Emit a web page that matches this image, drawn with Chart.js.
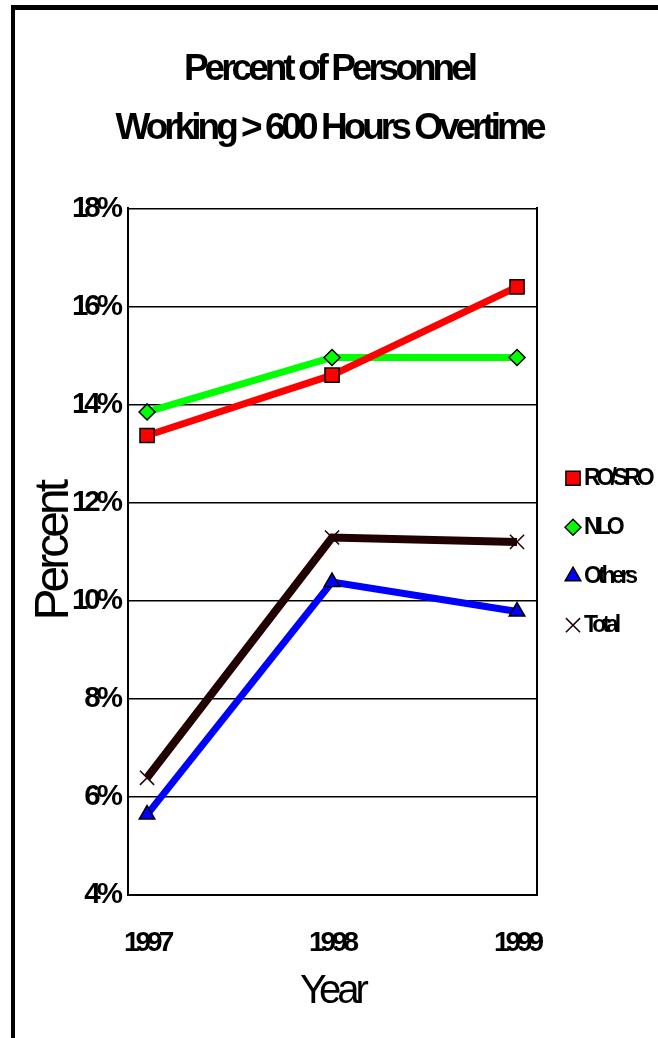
<!DOCTYPE html>
<html>
<head>
<meta charset="utf-8">
<title>Percent of Personnel Working &gt; 600 Hours Overtime</title>
<script src="https://cdn.jsdelivr.net/npm/chart.js@4.4.1/dist/chart.umd.min.js"></script>
<style>
  html, body { margin: 0; padding: 0; overflow: hidden; background: #fff; }
  #frame {
    position: absolute; left: 11px; top: 5px;
    width: 660px; height: 1040px;
    border-top: 5px solid #000; border-left: 4px solid #000;
  }
  #chart { position: absolute; left: 0; top: 0; }
</style>
</head>
<body>
<div id="frame"></div>
<canvas id="chart" width="658" height="1038"></canvas>
<script>
// values (percent)
const years = [1997, 1998, 1999];
const roSro = [13.37, 14.6, 16.4];
const nlo = [13.85, 14.96, 14.96];
const others = [5.64, 10.38, 9.78];
const total = [6.39, 11.29, 11.2];

const seriesNames = ['RO/SRO', 'NLO', 'Others', 'Total'];
const yTicks = [4, 6, 8, 10, 12, 14, 16, 18];
const titleLines = ['Percent of Personnel', 'Working > 600 Hours Overtime'];

const FONT = "'Liberation Sans', Arial, sans-serif";
const SPACING = '-4px'; // the original text is set very tight

Chart.defaults.font.family = FONT;
Chart.defaults.color = '#000';

function toPoints(values) {
    return values.map((v, i) => ({ x: years[i], y: v }));
}

// canvas letterSpacing gets reset whenever the canvas is resized, so set it often
const tightText = {
    id: 'tightText',
    beforeUpdate(chart) { chart.ctx.letterSpacing = SPACING; },
    beforeLayout(chart) { chart.ctx.letterSpacing = SPACING; },
    beforeDraw(chart) { chart.ctx.letterSpacing = SPACING; }
};

// legend on the right, one entry under the other
const sideLegend = {
    id: 'sideLegend',
    afterDraw(chart) {
        const ctx = chart.ctx;
        const area = chart.chartArea;
        const mid = (area.top + area.bottom) / 2;
        ctx.save();
        ctx.letterSpacing = SPACING;
        ctx.font = 'bold 23px ' + FONT;
        ctx.textBaseline = 'middle';
        ctx.textAlign = 'left';
        chart.data.datasets.forEach((ds, i) => {
            const y = mid + (i - 1.5) * 49;
            const x = area.right + 36;
            ctx.fillStyle = ds.pointBackgroundColor;
            ctx.strokeStyle = ds.pointBorderColor;
            ctx.lineWidth = ds.pointBorderWidth;
            Chart.helpers.drawPoint(ctx, {
                pointStyle: ds.pointStyle,
                radius: ds.pointRadius,
                borderWidth: ds.pointBorderWidth,
                rotation: 0
            }, x, y);
            ctx.fillStyle = '#000';
            ctx.fillText(ds.label, x + 11, y);
        });
        ctx.restore();
    }
};

const ctx = document.getElementById('chart').getContext('2d');

new Chart(ctx, {
    type: 'line',
    data: {
        datasets: [
            {
                label: seriesNames[0],
                data: toPoints(roSro),
                borderColor: '#ff0000',
                borderWidth: 7,
                pointStyle: 'rect',
                pointRadius: 10,
                pointBackgroundColor: '#ff0000',
                pointBorderColor: '#000',
                pointBorderWidth: 1.5
            },
            {
                label: seriesNames[1],
                data: toPoints(nlo),
                borderColor: '#00ff00',
                borderWidth: 7,
                pointStyle: 'rectRot',
                pointRadius: 8,
                pointBackgroundColor: '#00ff00',
                pointBorderColor: '#000',
                pointBorderWidth: 1.5
            },
            {
                label: seriesNames[2],
                data: toPoints(others),
                borderColor: '#0000ff',
                borderWidth: 7,
                pointStyle: 'triangle',
                pointRadius: 9,
                pointBackgroundColor: '#0000ff',
                pointBorderColor: '#000',
                pointBorderWidth: 1.5
            },
            {
                label: seriesNames[3],
                data: toPoints(total),
                borderColor: '#200000',
                borderWidth: 8,
                pointStyle: 'crossRot',
                pointRadius: 10,
                pointBackgroundColor: '#200000',
                pointBorderColor: '#200000',
                pointBorderWidth: 1.5
            }
        ]
    },
    options: {
        responsive: false,
        animation: false,
        layout: { padding: 0 },
        elements: { line: { tension: 0, fill: false } },
        plugins: {
            legend: { display: false },
            tooltip: { enabled: false },
            title: {
                display: true,
                text: titleLines,
                color: '#000',
                font: { size: 37, weight: 'bold', lineHeight: 1.6 },
                padding: { top: 40, bottom: 50 }
            }
        },
        scales: {
            x: {
                type: 'linear',
                min: 1996.897,
                max: 1999.108,
                afterBuildTicks: (scale) => { scale.ticks = years.map(v => ({ value: v })); },
                afterFit: (scale) => { scale.height = 143; },
                grid: { display: false },
                border: { display: true, color: '#000', width: 2 },
                ticks: {
                    padding: 23,
                    color: '#000',
                    maxRotation: 0,
                    autoSkip: false,
                    font: { size: 28, weight: 'bold' },
                    callback: (v) => String(v)
                },
                title: {
                    display: true,
                    text: 'Year',
                    color: '#000',
                    font: { size: 40 },
                    padding: { top: 0, bottom: 22 }
                }
            },
            y: {
                min: 4,
                max: 18,
                afterBuildTicks: (scale) => { scale.ticks = yTicks.map(v => ({ value: v })); },
                afterFit: (scale) => { scale.width = 128; },
                grid: { color: '#000', lineWidth: 1.5, drawTicks: false },
                border: { color: '#000', width: 2 },
                ticks: {
                    padding: 9,
                    color: '#000',
                    font: { size: 29.5, weight: 'bold' },
                    callback: (v) => v + '%'
                },
                title: {
                    display: true,
                    text: 'Percent',
                    color: '#000',
                    font: { size: 48 },
                    padding: { top: 26, bottom: 0 }
                }
            },
            // closes the plot box on the right and keeps room for the legend
            y2: {
                position: 'right',
                afterFit: (scale) => { scale.width = 121; },
                grid: { display: false },
                ticks: { display: false },
                border: { color: '#000', width: 2 }
            }
        }
    },
    plugins: [tightText, sideLegend]
});
</script>
</body>
</html>
